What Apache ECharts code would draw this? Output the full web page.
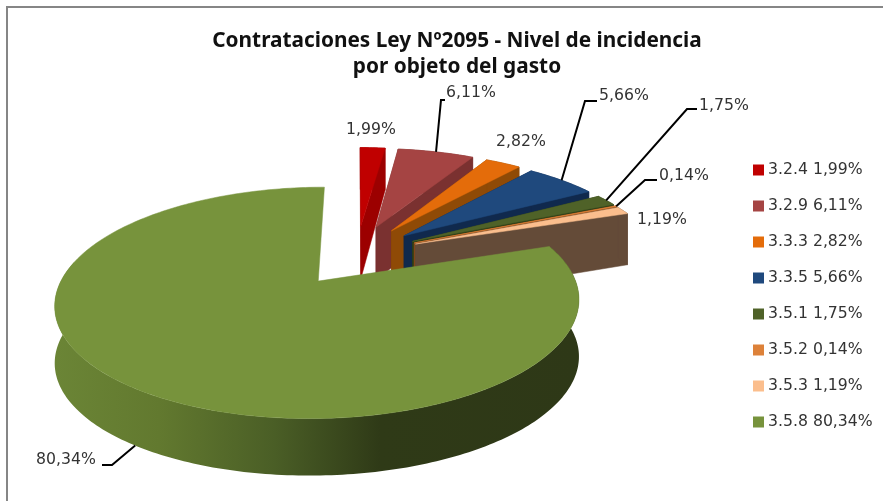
<!DOCTYPE html>
<html><head><meta charset="utf-8">
<style>html,body{margin:0;padding:0;background:#fff}#c{width:883px;height:501px}</style>
<script src="https://cdn.jsdelivr.net/npm/echarts@6/dist/echarts.min.js"></script>
</head><body><div id="c"></div>
<script>
const categories = ['3.2.4','3.2.9','3.3.3','3.3.5','3.5.1','3.5.2','3.5.3','3.5.8'];
const values = [1.99,6.11,2.82,5.66,1.75,0.14,1.19,80.34];
const titleLines = ['Contrataciones Ley Nº2095 - Nivel de incidencia','por objeto del gasto'];
const topColors = ['#C00000','#A54443','#E46C0A','#1F497D','#4F6228','#DD8139','#FBBE8D','#77933C'];
const wallColors = ['#9C0000','#7A3130','#8F4A06','#10294D','#2F3E17','#8A4A1A','#644B38','#4F6228'];
const labelPos = [[371,130],[471,93],[521,142],[624,96],[724,106],[684,176],[662,220],[66,460]];
const leaderElbows = [null,[[441,100],[445,100]],null,[[585,101],[597,101]],[[687,109],[697,109]],[[645,180],[657,180]],null,[[112,465],[102,465]]];
const P = {ox:357, oy:255, A:102, B:246, k:0.18, ex:0.26, ey:0.3, D:57, taper:0.14};
const font = 'DejaVu Sans, sans-serif';
const total = values.reduce((a,b)=>a+b,0);
const fmt = v => v.toFixed(2).replace('.',',');
const rad = d => d*Math.PI/180;
function sliceAngles(i){
  let s=0; for(let j=0;j<i;j++) s+=values[j];
  return [s/total*360,(s+values[i])/total*360];
}
function project(i,deg,r){
  const [a,b]=sliceAngles(i), m=rad((a+b)/2), t=rad(deg);
  const u=P.ex*Math.sin(m)+r*Math.sin(t), v=P.ey*Math.cos(m)+r*Math.cos(t);
  const w=1+P.k*v;
  return [P.ox+P.B*u/w, P.oy-P.A*v/w];
}
const down = p => [p[0],p[1]+P.D-P.taper*Math.max(0,P.oy-p[1])];
function poly(points,fill,stroke){
  return {type:'polygon',shape:{points},style:{fill,stroke:stroke||(typeof fill==='string'?fill:'none'),lineWidth:0.5}};
}
function renderSlice(i){
  const [a,b]=sliceAngles(i), apex=project(i,a,0);
  const arc=[], n=Math.max(3,Math.ceil(b-a));
  for(let s=0;s<=n;s++) arc.push(project(i,a+(b-a)*s/n,1));
  const wall=wallColors[i];
  const kids=[];
  if(i<7){
    kids.push(poly([apex,arc[0],down(arc[0]),down(apex)],wall));
    kids.push(poly([apex,arc[n],down(arc[n]),down(apex)],wall));
    kids.push(poly(arc.concat(arc.slice().reverse().map(down)),wall));
  }else{
    const front=[];
    for(let d=Math.ceil(a);d<=280;d++) front.push(project(i,d,1));
    kids.push(poly(front.concat(front.slice().reverse().map(down)),{
      type:'linear',x:0,y:0,x2:1,y2:0,
      colorStops:[{offset:0,color:'#6B8536'},{offset:0.2,color:'#62792F'},{offset:0.42,color:'#4A5E26'},{offset:0.62,color:'#2F3A17'},{offset:1,color:'#2E3817'}]
    },'none'));
  }
  kids.push(poly([apex].concat(arc),topColors[i]));
  if(leaderElbows[i]){
    const start=project(i,(a+b)/2,1);
    const st=i===7?down(start):start;
    kids.push({type:'polyline',shape:{points:[st].concat(leaderElbows[i])},style:{stroke:'#000',lineWidth:2,fill:'none'}});
  }
  kids.push({type:'text',style:{text:fmt(values[i])+'%',x:labelPos[i][0],y:labelPos[i][1],align:'center',verticalAlign:'middle',font:'15.7px '+font,fill:'#333'}});
  return {type:'group',children:kids};
}
const chart=echarts.init(document.getElementById('c'),null,{renderer:'canvas'});
chart.setOption({
  animation:false,
  backgroundColor:'#fff',
  title:{text:titleLines.join('\n'),left:452,top:23,textAlign:'center',
    textStyle:{fontFamily:'Noto Sans, sans-serif',fontWeight:'bold',fontSize:20.8,lineHeight:26,color:'#111'}},
  legend:{orient:'vertical',left:748,top:157,icon:'rect',itemWidth:11,itemHeight:11,itemGap:20,
    textStyle:{fontFamily:font,fontSize:15.7,color:'#333',padding:[0,0,0,-1]},selectedMode:false,
    data:categories.map((c,i)=>c+' '+fmt(values[i])+'%')},
  graphic:[{type:'polyline',shape:{points:[[7,510],[7,7],[890,7]]},style:{stroke:'#868686',lineWidth:2,fill:'none'},silent:true}],
  series:categories.map((c,i)=>({
    type:'custom',name:c+' '+fmt(values[i])+'%',coordinateSystem:'none',silent:true,clip:false,
    itemStyle:{color:topColors[i]},
    data:[[values[i]]],
    renderItem:()=>renderSlice(i)
  }))
});
</script></body></html>
